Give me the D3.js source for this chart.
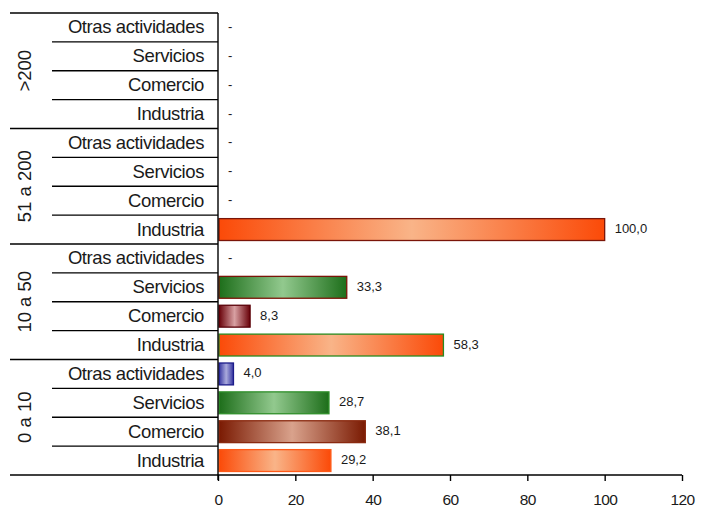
<!DOCTYPE html>
<html><head><meta charset="utf-8">
<script src="https://cdn.jsdelivr.net/npm/d3@7/dist/d3.min.js"></script>
<style>body{margin:0;background:#fff}svg{display:block}text{font-family:"Liberation Sans",Arial,sans-serif;fill:#1a1a1a}</style>
</head><body><svg id="c" width="701" height="510"></svg>
<script>
// groups listed bottom to top
const groups = ["0 a 10", "10 a 50", "51 a 200", ">200"];
// categories listed bottom to top within each group
const categories = ["Industria", "Comercio", "Servicios", "Otras actividades"];
const values0a10 = [29.2, 38.1, 28.7, 4.0];
const values10a50 = [58.3, 8.3, 33.3, 0];
const values51a200 = [100.0, 0, 0, 0];
const valuesMas200 = [0, 0, 0, 0];
const xTicks = [0, 20, 40, 60, 80, 100, 120];

const seriesValues = [values0a10, values10a50, values51a200, valuesMas200];

// styles
const gradColors = {
  "Industria": ["#fb4a08", "#f9b488"],
  "Comercio": ["#7a1a02", "#d9a28c"],
  "Servicios": ["#1d6e1a", "#92c98e"],
  "Otras actividades": ["#3434a0", "#aaaadc"]
};
const specialGrad = {"10 a 50|Comercio": ["#680008", "#d8a0a2"]};
const borderColors = {
  "51 a 200|Industria": "#7a1508",
  "10 a 50|Servicios": "#7a1508",
  "10 a 50|Comercio": "#5a0008",
  "10 a 50|Industria": "#2a8a20",
  "0 a 10|Otras actividades": "#1c1c8a",
  "0 a 10|Servicios": "#2f8f2a",
  "0 a 10|Comercio": "#8a2a10",
  "0 a 10|Industria": "#ff5a18"
};

const rows = [];
groups.forEach((g, gi) => categories.forEach((c, ci) => rows.push({group: g, cat: c, value: seriesValues[gi][ci], key: g + "|" + c})));
const rowKeys = rows.map(r => r.key).reverse(); // top to bottom

const svg = d3.select("#c");
const pLeft = 218, pRight = 682, pTop = 13, pBottom = 475;
const x = d3.scaleLinear().domain([0, 120]).range([pLeft, pRight]);
const y = d3.scaleBand().domain(rowKeys).range([pTop, pBottom]).paddingInner(0);
const bw = y.bandwidth();

const defs = svg.append("defs");
rows.forEach((r, i) => {
  const cols = specialGrad[r.key] || gradColors[r.cat];
  const lg = defs.append("linearGradient").attr("id", "g" + i).attr("x1", 0).attr("x2", 1).attr("y1", 0).attr("y2", 0);
  lg.append("stop").attr("offset", 0).attr("stop-color", cols[0]);
  lg.append("stop").attr("offset", 0.5).attr("stop-color", cols[1]);
  lg.append("stop").attr("offset", 1).attr("stop-color", cols[0]);
});

// bars
svg.append("g").selectAll("rect").data(rows.map((r, i) => ({...r, i})).filter(d => d.value > 0)).join("rect")
  .attr("x", x(0) + 1)
  .attr("y", d => y(d.key) + 3.5)
  .attr("width", d => x(d.value) - x(0) - 1)
  .attr("height", bw - 7)
  .attr("fill", d => `url(#g${d.i})`)
  .attr("stroke", d => borderColors[d.key] || "#333")
  .attr("stroke-width", 1.3);

// value labels
svg.append("g").selectAll("text").data(rows).join("text")
  .attr("x", d => x(d.value) + 10)
  .attr("y", d => y(d.key) + bw / 2 - 1)
  .attr("dominant-baseline", "central")
  .attr("font-size", 13)
  .attr("fill", "#333")
  .text(d => d.value === 0 ? "-" : d3.format(".1f")(d.value).replace(".", ","));

// category labels
svg.append("g").selectAll("text").data(rows).join("text")
  .attr("x", 204)
  .attr("y", d => y(d.key) + bw / 2 + 6)
  .attr("text-anchor", "end")
  .attr("font-size", 18.5)
  .attr("letter-spacing", -0.4)
  .attr("fill", "#222")
  .text(d => d.cat);

// separator lines
const lines = svg.append("g").attr("stroke", "#000").attr("stroke-width", 1.4);
groups.forEach((g, gi) => {
  categories.forEach((c, ci) => {
    if (ci === 0) return;
    const yy = y(g + "|" + c) + bw;
    lines.append("line").attr("x1", 52).attr("x2", pLeft).attr("y1", yy).attr("y2", yy);
  });
  const yt = y(g + "|" + categories[categories.length - 1]);
  lines.append("line").attr("x1", 10).attr("x2", pLeft).attr("y1", yt).attr("y2", yt);
});
lines.append("line").attr("x1", 10).attr("x2", pLeft).attr("y1", pBottom).attr("y2", pBottom);

// group labels
svg.append("g").selectAll("text").data(groups).join("text")
  .attr("transform", g => {
    const y1 = y(g + "|" + categories[categories.length - 1]);
    const y2 = y(g + "|" + categories[0]) + bw;
    return `translate(31,${(y1 + y2) / 2}) rotate(-90)`;
  })
  .attr("text-anchor", "middle")
  .attr("font-size", 18.5)
  .attr("fill", "#222")
  .text(g => g);

// x axis
const xAxis = svg.append("g").attr("transform", `translate(0,${pBottom})`)
  .call(d3.axisBottom(x).tickValues(xTicks).tickSize(6).tickPadding(13).tickFormat(d3.format("d")));
xAxis.select(".domain").attr("stroke", "#000").attr("stroke-width", 1.4).attr("d", `M${pLeft},0H${pRight}`);
xAxis.selectAll(".tick line").attr("stroke", "#000").attr("stroke-width", 1.4);
xAxis.selectAll(".tick text").attr("font-size", 15.5).attr("font-family", '"Liberation Sans",Arial,sans-serif').attr("fill", "#222").attr("letter-spacing", -0.6);

// y axis line
svg.append("line").attr("x1", pLeft).attr("x2", pLeft).attr("y1", pTop).attr("y2", pBottom + 5).attr("stroke", "#000").attr("stroke-width", 1.4);
</script></body></html>
